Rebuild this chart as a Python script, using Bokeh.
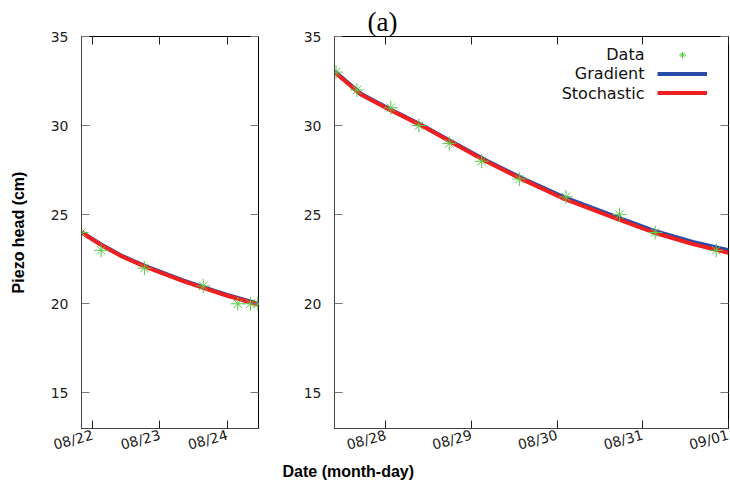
import pandas as pd
from bokeh.plotting import figure
from bokeh.models import (Range1d, FixedTicker, DatetimeTickFormatter, LinearAxis,
                          DatetimeAxis, Legend, LegendItem, Label, Title, CustomJSTickFormatter)
from bokeh.layouts import row
from bokeh.embed import file_html
from bokeh.resources import INLINE

# ---------------- data ----------------
left_data_time = ["2016-08-21 20:00", "2016-08-22 03:00", "2016-08-22 18:27", "2016-08-23 15:26",
                  "2016-08-24 03:47", "2016-08-24 08:19", "2016-08-24 10:55"]
left_data_head = [24, 23, 22, 21, 20, 20, 20]

left_curve_time = ["2016-08-21 20:00", "2016-08-22 03:00", "2016-08-22 10:00", "2016-08-22 18:30",
                   "2016-08-23 00:00", "2016-08-23 08:00", "2016-08-23 15:25", "2016-08-24 00:00",
                   "2016-08-24 11:10"]
left_gradient = [24.02, 23.33, 22.72, 22.13, 21.80, 21.33, 20.93, 20.50, 20.00]
left_stochastic = [24.00, 23.30, 22.69, 22.10, 21.76, 21.29, 20.89, 20.45, 19.95]

right_data_time = ["2016-08-27 10:02", "2016-08-27 15:52", "2016-08-28 01:23", "2016-08-28 09:15",
                   "2016-08-28 17:46", "2016-08-29 02:51", "2016-08-29 13:24", "2016-08-30 02:27",
                   "2016-08-30 17:27", "2016-08-31 03:27", "2016-08-31 20:33"]
right_data_head = [33, 32, 31, 30, 29, 28, 27, 26, 25, 24, 23]

right_curve_time = ["2016-08-27 09:36", "2016-08-27 17:00", "2016-08-28 00:30", "2016-08-28 10:00",
                    "2016-08-28 19:00", "2016-08-29 04:00", "2016-08-29 14:30", "2016-08-30 02:00",
                    "2016-08-30 16:00", "2016-08-31 03:00", "2016-08-31 14:00", "2016-09-01 00:00"]
right_gradient = [33.05, 31.78, 30.98, 30.03, 29.04, 28.05, 27.01, 25.97, 24.92, 24.10, 23.47, 23.00]
right_stochastic = [33.00, 31.75, 30.95, 30.00, 29.00, 28.00, 26.95, 25.88, 24.82, 24.00, 23.35, 22.86]

left_ticks = ["2016-08-22", "2016-08-23", "2016-08-24"]
right_ticks = ["2016-08-28", "2016-08-29", "2016-08-30", "2016-08-31", "2016-09-01"]
y_ticks = [15, 20, 25, 30, 35]

left_range = ("2016-08-21 20:00", "2016-08-24 11:10")
right_range = ("2016-08-27 09:36", "2016-09-01 00:00")
y_range = (13, 35)

series_names = ["Data", "Gradient", "Stochastic"]

# ---------------- styles ----------------
GREEN = "#5cc84a"
BLUE = "#2a4aa8"
RED = "#f02020"
TICK_FONT = "DejaVu Sans"
LABEL_FONT = "Liberation Sans"


def ms(t):
    return pd.Timestamp(t).value / 1e6


def to_dt(lst):
    return pd.to_datetime(lst)


def style_fig(p, ticks_ms):
    p.xaxis.ticker = FixedTicker(ticks=ticks_ms)
    p.xaxis.formatter = DatetimeTickFormatter(days="%m/%d", months="%m/%d", hours="%m/%d",
                                              years="%m/%d", minutes="%m/%d")
    p.yaxis.ticker = FixedTicker(ticks=y_ticks)
    for ax in (p.xaxis[0], p.yaxis[0]):
        ax.major_tick_in = 8
        ax.major_tick_out = 0
        ax.minor_tick_in = 0
        ax.minor_tick_out = 0
        ax.major_label_text_font = TICK_FONT
        ax.major_label_text_font_size = "14px"
        ax.major_label_text_color = "#222222"
        ax.axis_line_color = "#444444"
    p.xaxis.major_tick_line_color = "#222222"
    p.yaxis.major_tick_line_color = "#777777"
    p.xaxis.major_label_orientation = 0.26
    p.xaxis.major_label_standoff = 6
    p.xaxis.axis_label_standoff = 0
    p.yaxis.major_label_standoff = 13
    # mirrored axes
    top = DatetimeAxis(ticker=FixedTicker(ticks=ticks_ms),
                       formatter=CustomJSTickFormatter(code="return ''"))
    right = LinearAxis(ticker=FixedTicker(ticks=y_ticks),
                       formatter=CustomJSTickFormatter(code="return ''"))
    for ax in (top, right):
        ax.major_tick_in = 8
        ax.major_tick_out = 0
        ax.minor_tick_in = 0
        ax.minor_tick_out = 0
        ax.major_label_standoff = 0
        ax.axis_label_standoff = 0
        ax.major_label_text_font_size = "0px"
        ax.axis_line_color = None
    top.major_tick_line_color = "#222222"
    right.major_tick_line_color = "#777777"
    p.add_layout(top, "above")
    p.add_layout(right, "right")
    p.xgrid.visible = False
    p.ygrid.visible = False
    p.outline_line_color = "black"
    p.outline_line_width = 1
    p.background_fill_color = "white"
    p.border_fill_color = "white"


def draw_data(p, t, v):
    a = p.scatter(to_dt(t), v, marker="cross", size=14, line_color=GREEN, line_width=1)
    b = p.scatter(to_dt(t), v, marker="x", size=12, line_color=GREEN, line_width=1)
    return [a, b]


H = 480
# ---------------- left panel ----------------
pL = figure(width=268, height=H, output_backend="svg", toolbar_location=None,
            x_axis_type="datetime",
            x_range=Range1d(to_dt([left_range[0]])[0], to_dt([left_range[1]])[0]),
            y_range=Range1d(*y_range),
            min_border_left=81, min_border_right=10, min_border_top=36, min_border_bottom=40)
style_fig(pL, [ms(t) for t in left_ticks])
pL.yaxis[0].axis_label = "Piezo head (cm)"
pL.yaxis[0].axis_label_text_font = LABEL_FONT
pL.yaxis[0].axis_label_text_font_style = "bold"
pL.yaxis[0].axis_label_text_font_size = "16px"
pL.yaxis[0].axis_label_text_color = "black"
pL.yaxis[0].axis_label_standoff = 21

pL.line(to_dt(left_curve_time), left_gradient, line_color=BLUE, line_width=4)
pL.line(to_dt(left_curve_time), left_stochastic, line_color=RED, line_width=4)
draw_data(pL, left_data_time, left_data_head)

# ---------------- right panel ----------------
pR = figure(width=462, height=H, output_backend="svg", toolbar_location=None,
            x_axis_type="datetime",
            x_range=Range1d(to_dt([right_range[0]])[0], to_dt([right_range[1]])[0]),
            y_range=Range1d(*y_range),
            min_border_left=66, min_border_right=2, min_border_top=36, min_border_bottom=40)
style_fig(pR, [ms(t) for t in right_ticks])

rg = pR.line(to_dt(right_curve_time), right_gradient, line_color=BLUE, line_width=4)
rs = pR.line(to_dt(right_curve_time), right_stochastic, line_color=RED, line_width=4)
rd = draw_data(pR, right_data_time, right_data_head)

legend = Legend(items=[LegendItem(label=" ", renderers=rd),
                       LegendItem(label=" ", renderers=[rg]),
                       LegendItem(label=" ", renderers=[rs])],
                location=(323, 327), padding=0, margin=0, border_line_color=None,
                background_fill_alpha=0, glyph_width=50, glyph_height=17, label_height=17,
                label_width=0, label_standoff=0, spacing=2, label_text_font_size="10px")
pR.add_layout(legend, "center")

# label positions are in screen px relative to the frame's bottom-left corner
for name, y in zip(series_names, [374, 355, 335]):
    pR.add_layout(Label(x=310, y=y, x_units="screen", y_units="screen", text=name,
                        text_align="right", text_baseline="middle",
                        text_font=TICK_FONT, text_font_size="16px", text_color="#111111"))

pR.title.text = "(a)"
pR.title.align = "left"
pR.title.offset = 33
pR.title.standoff = 0
pR.title.text_font = "Liberation Serif"
pR.title.text_font_style = "normal"
pR.title.text_font_size = "27px"
pR.title.text_color = "black"

pR.add_layout(Title(text="Date (month-day)", align="left", offset=-52, standoff=-2,
                    vertical_align="top",
                    text_font=LABEL_FONT, text_font_style="bold", text_font_size="16px",
                    text_color="black"), "below")

layout = row(pL, pR)
open("out.html", "w").write(file_html(layout, INLINE))
